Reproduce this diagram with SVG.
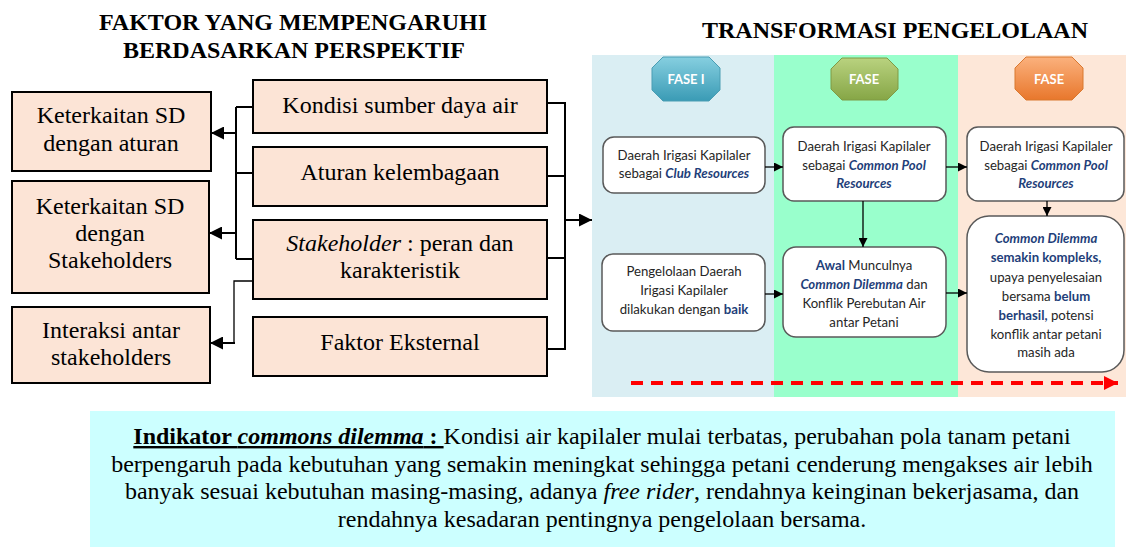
<svg xmlns="http://www.w3.org/2000/svg" width="1126" height="547" viewBox="0 0 1126 547">
<style>
.title{font-family:"Liberation Serif","Times New Roman",serif;font-weight:bold;font-size:24px;fill:#000;text-anchor:middle}
.lbox{fill:#FCE4D6;stroke:#000;stroke-width:2}
.lt{font-family:"Liberation Serif","Times New Roman",serif;font-size:24px;fill:#000;text-anchor:middle}
.pbox{fill:#fff;stroke:#595959;stroke-width:1.5}
.pt{font-family:Lato,"Open Sans",sans-serif;font-size:13.2px;fill:#262626;text-anchor:middle}
.em{fill:#1F3F7A;font-weight:bold}
.fase{font-family:Lato,"Open Sans",sans-serif;font-weight:bold;font-size:13px;fill:#fff;text-anchor:middle}
.con{fill:none;stroke:#000;stroke-width:2}
.pcon{fill:none;stroke:#000;stroke-width:1.3}
.bt{font-family:"Liberation Serif","Times New Roman",serif;font-size:24px;fill:#000;text-anchor:middle}
</style>
<defs>
<marker id="ah" viewBox="0 0 10 10" refX="10" refY="5" markerWidth="13" markerHeight="13" markerUnits="userSpaceOnUse" orient="auto"><path d="M0,0 L10,5 L0,10 z" fill="#000"/></marker>
<marker id="ahs" viewBox="0 0 10 10" refX="10" refY="5" markerWidth="9" markerHeight="9" markerUnits="userSpaceOnUse" orient="auto"><path d="M0,0 L10,5 L0,10 z" fill="#000"/></marker>
<marker id="ahr" viewBox="0 0 10 10" refX="10" refY="5" markerWidth="14" markerHeight="14" markerUnits="userSpaceOnUse" orient="auto"><path d="M0,0 L10,5 L0,10 z" fill="#FF0000"/></marker>
<linearGradient id="gTeal" x1="0" y1="0" x2="0" y2="1"><stop offset="0" stop-color="#86CFE0"/><stop offset="1" stop-color="#3A9BB5"/></linearGradient>
<linearGradient id="gGreen" x1="0" y1="0" x2="0" y2="1"><stop offset="0" stop-color="#B9D27F"/><stop offset="1" stop-color="#86A646"/></linearGradient>
<linearGradient id="gOrange" x1="0" y1="0" x2="0" y2="1"><stop offset="0" stop-color="#FBB17D"/><stop offset="1" stop-color="#E8772C"/></linearGradient>
</defs>
<rect width="1126" height="547" fill="#fff"/>

<!-- Titles -->
<text class="title" x="293" y="30">FAKTOR YANG MEMPENGARUHI</text>
<text class="title" x="294" y="58">BERDASARKAN PERSPEKTIF</text>
<text class="title" x="895" y="38">TRANSFORMASI PENGELOLAAN</text>

<!-- Phase panels -->
<g id="panels">
<rect x="592" y="55" width="182" height="342" fill="#DAEEF3"/>
<rect x="774" y="55" width="184" height="342" fill="#99FFCC"/>
<rect x="958" y="55" width="168" height="342" fill="#FDE7D8"/>
</g>

<!-- Left nodes -->
<g id="l1"><rect class="lbox" x="12" y="92" width="199" height="79"/>
<text class="lt" x="111" y="123">Keterkaitan SD</text><text class="lt" x="111" y="151">dengan aturan</text></g>
<g id="l2"><rect class="lbox" x="12" y="181" width="197" height="112"/>
<text class="lt" x="110" y="214">Keterkaitan SD</text><text class="lt" x="110" y="241">dengan</text><text class="lt" x="110" y="268">Stakeholders</text></g>
<g id="l3"><rect class="lbox" x="12" y="307" width="198" height="76"/>
<text class="lt" x="111" y="338">Interaksi antar</text><text class="lt" x="111" y="365">stakeholders</text></g>

<!-- Middle nodes -->
<g id="m1"><rect class="lbox" x="253" y="80" width="294" height="53"/>
<text class="lt" x="400" y="113">Kondisi sumber daya air</text></g>
<g id="m2"><rect class="lbox" x="253" y="147" width="294" height="59"/>
<text class="lt" x="400" y="180">Aturan kelembagaan</text></g>
<g id="m3"><rect class="lbox" x="253" y="220" width="294" height="79"/>
<text class="lt" x="400" y="251"><tspan font-style="italic">Stakeholder</tspan> : peran dan</text><text class="lt" x="400" y="278">karakteristik</text></g>
<g id="m4"><rect class="lbox" x="253" y="317" width="294" height="59"/>
<text class="lt" x="400" y="350">Faktor Eksternal</text></g>

<!-- Phase badges -->
<g id="fase1"><polygon points="663,57 709,57 720,68 720,90 709,101 663,101 652,90 652,68" fill="url(#gTeal)" stroke="#4A9DB3" stroke-width="1"/>
<text class="fase" x="686" y="84">FASE I</text></g>
<g id="fase2"><polygon points="842,58 887,58 898,69 898,89 887,100 842,100 831,89 831,69" fill="url(#gGreen)" stroke="#7F9A45" stroke-width="1"/>
<text class="fase" x="864" y="84">FASE</text></g>
<g id="fase3"><polygon points="1026,57 1072,57 1083,68 1083,89 1072,100 1026,100 1015,89 1015,68" fill="url(#gOrange)" stroke="#D9782F" stroke-width="1"/>
<text class="fase" x="1049" y="84">FASE</text></g>

<!-- Phase nodes -->
<g id="p1a"><rect class="pbox" x="603" y="137" width="162" height="56" rx="11"/>
<text class="pt" x="684" y="160">Daerah Irigasi Kapilaler</text>
<text class="pt" x="684" y="178">sebagai <tspan class="em" font-style="italic">Club Resources</tspan></text></g>
<g id="p1b"><rect class="pbox" x="602" y="254" width="163" height="77" rx="11"/>
<text class="pt" x="684" y="276">Pengelolaan Daerah</text>
<text class="pt" x="684" y="295">Irigasi Kapilaler</text>
<text class="pt" x="684" y="314">dilakukan dengan <tspan class="em">baik</tspan></text></g>
<g id="p2a"><rect class="pbox" x="783" y="127" width="163" height="74" rx="11"/>
<text class="pt" x="864" y="151">Daerah Irigasi Kapilaler</text>
<text class="pt" x="864" y="170">sebagai <tspan class="em" font-style="italic">Common Pool</tspan></text>
<text class="pt" x="864" y="188"><tspan class="em" font-style="italic">Resources</tspan></text></g>
<g id="p2b"><rect class="pbox" x="783" y="247" width="163" height="90" rx="13"/>
<text class="pt" x="864" y="270"><tspan class="em">Awal</tspan> Munculnya</text>
<text class="pt" x="864" y="289"><tspan class="em" font-style="italic">Common Dilemma</tspan> dan</text>
<text class="pt" x="864" y="308">Konflik Perebutan Air</text>
<text class="pt" x="864" y="327">antar Petani</text></g>
<g id="p3a"><rect class="pbox" x="967" y="127" width="157" height="74" rx="11"/>
<text class="pt" x="1046" y="151">Daerah Irigasi Kapilaler</text>
<text class="pt" x="1046" y="170">sebagai <tspan class="em" font-style="italic">Common Pool</tspan></text>
<text class="pt" x="1046" y="188"><tspan class="em" font-style="italic">Resources</tspan></text></g>
<g id="p3b"><rect class="pbox" x="967" y="216" width="157" height="156" rx="22"/>
<text class="pt" x="1046" y="243"><tspan class="em" font-style="italic">Common Dilemma</tspan></text>
<text class="pt" x="1046" y="262"><tspan class="em">semakin kompleks,</tspan></text>
<text class="pt" x="1046" y="282">upaya penyelesaian</text>
<text class="pt" x="1046" y="301">bersama <tspan class="em">belum</tspan></text>
<text class="pt" x="1046" y="320"><tspan class="em">berhasil,</tspan> potensi</text>
<text class="pt" x="1046" y="339">konflik antar petani</text>
<text class="pt" x="1046" y="357">masih ada</text></g>

<!-- Connectors -->
<g id="connectors">
<path class="con" d="M236,107 V259 M236,107 H253 M236,173 H253 M236,259 H253"/>
<path class="con" d="M236,133 H211" marker-end="url(#ah)"/>
<path class="con" d="M236,233 H209" marker-end="url(#ah)"/>
<path class="pcon" d="M253,281 H234 V343"/>
<path class="con" d="M235,343 H210" marker-end="url(#ah)"/>
<path class="con" d="M547,103 H565 M547,176 H565 M547,258 H565 M547,349 H565 M565,102 V350"/>
<path class="con" d="M565,220 H592" marker-end="url(#ah)"/>
<path class="pcon" d="M765,167 H783" marker-end="url(#ahs)"/>
<path class="pcon" d="M765,294 H783" marker-end="url(#ahs)"/>
<path class="pcon" d="M946,167 H967" marker-end="url(#ahs)"/>
<path class="pcon" d="M946,293 H967" marker-end="url(#ahs)"/>
<path class="pcon" d="M863,201 V247" marker-end="url(#ahs)"/>
<path class="pcon" d="M1047,201 V216" marker-end="url(#ahs)"/>
<path d="M631,383 H1118" fill="none" stroke="#FF0000" stroke-width="4" stroke-dasharray="12 8" marker-end="url(#ahr)"/>
</g>

<!-- Bottom indicator -->
<g id="indikator">
<rect x="90" y="411" width="1025" height="136" fill="#CCFFFF"/>
<text class="bt" x="602" y="444"><tspan font-weight="bold" text-decoration="underline">Indikator <tspan font-style="italic">commons dilemma</tspan> : </tspan>Kondisi air kapilaler mulai terbatas, perubahan pola tanam petani</text>
<text class="bt" x="602" y="472">berpengaruh pada kebutuhan yang semakin meningkat sehingga petani cenderung mengakses air lebih</text>
<text class="bt" x="602" y="499">banyak sesuai kebutuhan masing-masing, adanya <tspan font-style="italic">free rider</tspan>, rendahnya keinginan bekerjasama, dan</text>
<text class="bt" x="602" y="527">rendahnya kesadaran pentingnya pengelolaan bersama.</text>
</g>
</svg>
